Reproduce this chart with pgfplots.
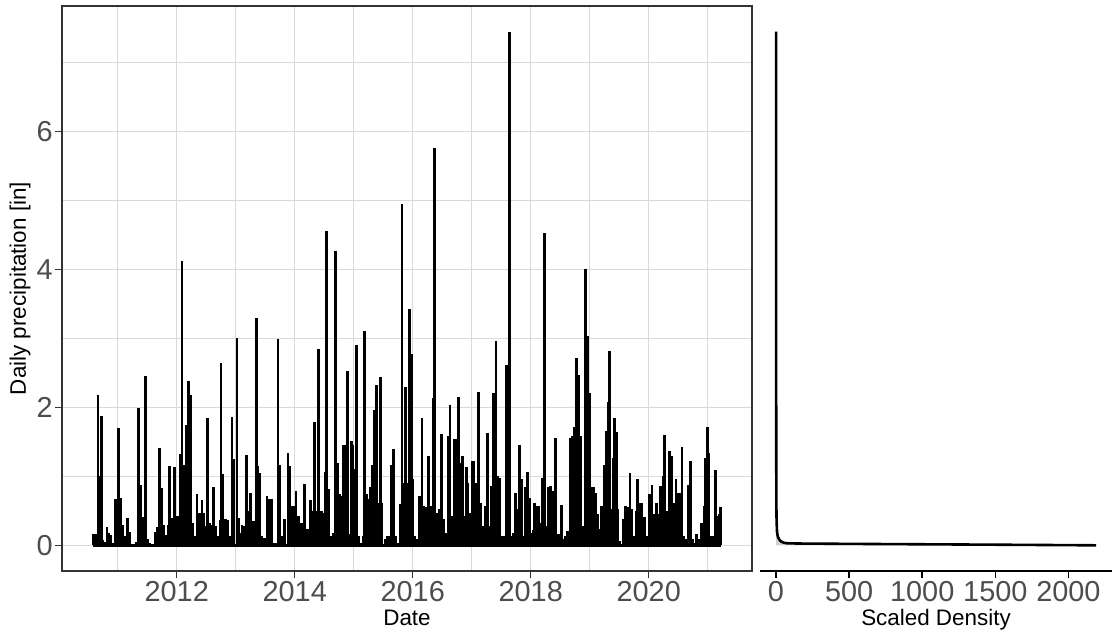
\documentclass[border=0pt]{standalone}
\usepackage{pgfplots}
\pgfplotsset{compat=1.18}
\usepackage{pgfplotstable}
\usepackage{fontspec}
\setmainfont{Liberation Sans}

\definecolor{tickgrey}{HTML}{4D4D4D}
\definecolor{framegrey}{HTML}{333333}
\definecolor{gridgrey}{HTML}{D9D9D9}

% daily precipitation peaks (decimal year, inches)
\pgfplotstableread{
year value
2010.581 0.16
2010.620 0.16
2010.666 2.18
2010.689 1.00
2010.722 1.87
2010.751 0.08
2010.785 0.05
2010.819 0.26
2010.853 0.18
2010.886 0.15
2010.920 0.04
2010.959 0.67
2010.988 0.50
2011.017 1.70
2011.051 0.69
2011.090 0.29
2011.129 0.14
2011.163 0.39
2011.197 0.19
2011.231 0.02
2011.276 0.01
2011.322 0.05
2011.356 1.99
2011.383 0.88
2011.417 0.41
2011.446 0.40
2011.468 2.45
2011.502 0.09
2011.542 0.04
2011.598 0.01
2011.637 0.20
2011.671 0.27
2011.705 1.41
2011.729 0.50
2011.751 0.83
2011.773 0.30
2011.797 0.09
2011.824 0.15
2011.853 0.29
2011.881 1.15
2011.920 0.40
2011.942 0.30
2011.966 1.14
2012.000 0.43
2012.027 0.43
2012.061 1.33
2012.090 4.12
2012.124 1.17
2012.146 0.40
2012.169 1.74
2012.203 2.39
2012.237 2.18
2012.271 0.33
2012.305 0.14
2012.344 0.75
2012.390 0.47
2012.429 0.66
2012.463 0.47
2012.485 0.28
2012.525 1.85
2012.553 0.33
2012.586 0.30
2012.620 0.85
2012.654 0.28
2012.700 0.14
2012.734 0.37
2012.751 2.64
2012.785 1.04
2012.824 0.38
2012.858 0.37
2012.898 0.14
2012.937 1.86
2012.971 1.25
2013.022 3.01
2013.044 0.40
2013.068 0.18
2013.107 0.30
2013.141 0.28
2013.186 1.31
2013.214 0.50
2013.247 0.76
2013.276 0.35
2013.310 0.35
2013.349 3.29
2013.378 1.15
2013.412 1.05
2013.446 0.14
2013.492 0.11
2013.531 0.71
2013.576 0.67
2013.615 0.67
2013.661 0.04
2013.688 0.04
2013.717 2.99
2013.746 1.17
2013.785 0.14
2013.831 0.38
2013.886 1.34
2013.920 1.15
2013.954 0.57
2013.983 0.57
2014.022 0.79
2014.068 0.43
2014.085 0.29
2014.112 0.33
2014.124 0.30
2014.169 0.89
2014.214 0.23
2014.271 0.66
2014.305 0.50
2014.339 1.79
2014.366 0.50
2014.407 2.85
2014.451 0.50
2014.485 0.47
2014.519 1.06
2014.542 4.56
2014.576 0.81
2014.620 0.14
2014.649 0.18
2014.688 4.27
2014.722 1.20
2014.763 0.75
2014.790 0.71
2014.831 1.46
2014.858 1.46
2014.892 2.53
2014.915 0.16
2014.959 1.51
2014.988 1.46
2015.017 1.10
2015.051 2.91
2015.085 0.14
2015.119 0.04
2015.158 0.14
2015.186 3.11
2015.214 0.74
2015.254 0.67
2015.288 0.85
2015.322 1.17
2015.344 1.96
2015.383 2.32
2015.412 0.62
2015.451 2.44
2015.480 0.62
2015.536 0.09
2015.569 0.14
2015.610 0.14
2015.644 1.17
2015.678 1.39
2015.705 0.14
2015.751 0.04
2015.785 0.60
2015.819 4.95
2015.853 0.91
2015.875 2.29
2015.908 0.91
2015.942 3.43
2015.976 2.78
2016.005 0.96
2016.034 0.14
2016.078 0.09
2016.119 0.71
2016.158 1.84
2016.192 0.57
2016.231 0.55
2016.271 1.29
2016.305 0.57
2016.344 2.14
2016.373 5.77
2016.417 0.47
2016.458 0.52
2016.485 1.62
2016.519 0.38
2016.569 0.18
2016.598 1.58
2016.632 2.03
2016.666 0.43
2016.712 1.54
2016.739 1.54
2016.780 2.15
2016.807 1.20
2016.841 1.29
2016.881 0.43
2016.915 1.13
2016.937 0.91
2016.971 0.47
2017.005 1.22
2017.039 1.22
2017.078 0.91
2017.119 2.23
2017.153 0.62
2017.192 0.28
2017.231 0.57
2017.264 1.63
2017.305 0.28
2017.332 0.86
2017.373 2.21
2017.412 2.96
2017.446 1.00
2017.480 0.98
2017.514 0.14
2017.559 0.14
2017.593 2.62
2017.637 7.45
2017.671 0.14
2017.700 0.18
2017.739 0.76
2017.773 0.52
2017.807 1.46
2017.841 0.96
2017.875 0.14
2017.908 0.84
2017.942 1.07
2017.976 0.69
2018.010 0.18
2018.044 0.22
2018.068 0.62
2018.102 0.57
2018.136 0.57
2018.169 0.33
2018.192 0.97
2018.237 4.53
2018.271 0.28
2018.298 0.85
2018.332 0.86
2018.366 0.79
2018.400 0.79
2018.422 1.56
2018.456 0.16
2018.497 0.16
2018.525 0.58
2018.554 0.09
2018.593 0.14
2018.627 0.21
2018.671 1.56
2018.705 1.58
2018.739 1.72
2018.780 2.72
2018.820 2.47
2018.854 1.58
2018.888 0.28
2018.932 4.01
2018.966 3.03
2019.007 2.21
2019.034 0.85
2019.068 0.85
2019.102 0.76
2019.136 0.45
2019.176 0.23
2019.203 0.57
2019.232 0.23
2019.254 1.16
2019.288 1.66
2019.310 2.08
2019.332 2.82
2019.366 0.52
2019.395 1.26
2019.424 1.85
2019.451 1.64
2019.480 0.52
2019.514 0.06
2019.564 0.38
2019.603 0.57
2019.637 0.55
2019.683 1.05
2019.717 0.52
2019.751 0.14
2019.785 0.50
2019.807 0.96
2019.846 0.62
2019.875 0.62
2019.903 0.30
2019.932 0.41
2019.976 0.14
2020.017 0.75
2020.056 0.88
2020.090 0.45
2020.129 0.62
2020.158 0.45
2020.203 0.86
2020.242 1.00
2020.271 1.60
2020.305 0.50
2020.349 1.37
2020.383 1.29
2020.417 0.62
2020.463 0.96
2020.497 0.76
2020.525 0.76
2020.564 1.43
2020.598 0.14
2020.637 0.09
2020.666 0.88
2020.712 1.22
2020.746 0.09
2020.780 0.04
2020.814 0.16
2020.847 0.09
2020.892 0.33
2020.937 0.57
2020.959 1.27
2020.993 1.71
2021.022 1.34
2021.051 0.14
2021.090 0.14
2021.129 1.09
2021.163 0.43
2021.197 0.45
2021.220 0.55
}\precip

% scaled density of daily precipitation
\pgfplotstableread{
density precip
0.3 7.45
0.6 5.00
1.0 3.00
1.5 1.50
2.5 0.60
4 0.35
7 0.20
11 0.14
16 0.11
25 0.075
39 0.050
55 0.037
73 0.030
150 0.026
500 0.021
1000 0.015
1500 0.009
2189 0.000
}\dens

\begin{document}
\begin{tikzpicture}
\pgfplotsset{
  panel/.style={
    scale only axis,
    anchor=south west,
    height=282.5bp,
    ymin=-0.3725, ymax=7.8225,
    tick align=outside,
    major tick length=3.5bp,
    minor tick length=0pt,
    /pgf/number format/assume math mode=true,
    /pgf/number format/1000 sep={},
    xticklabel style={font=\fontsize{14.5}{14.5}\selectfont, text=tickgrey,
      anchor=base, inner sep=0pt, yshift=-11.9bp},
    yticklabel style={font=\fontsize{14.5}{14.5}\selectfont, text=tickgrey,
      anchor=east, inner sep=0pt, xshift=-1bp},
    every axis x label/.style={at={(axis description cs:0.5,0)}, anchor=base,
      yshift=-27bp, font=\fontsize{11.25}{11.25}\selectfont, text=black},
  },
}
% time series
\begin{axis}[panel,
  at={(31bp,31bp)}, width=345bp,
  xmin=2010.056, xmax=2021.751,
  xtick={2012,2014,2016,2018,2020},
  minor xtick={2011,2013,2015,2017,2019,2021},
  ytick={0,2,4,6},
  minor ytick={1,3,5,7},
  grid=both,
  major grid style={gridgrey, line width=0.6bp},
  minor grid style={gridgrey, line width=0.45bp},
  axis line style={framegrey, line width=0.7bp},
  tick style={framegrey, line width=0.7bp},
  xtick pos=bottom, ytick pos=left,
  xlabel={Date},
  ylabel={Daily precipitation [in]},
  every axis y label/.style={at={(axis description cs:0,0.5)}, rotate=90,
    anchor=center, yshift=21bp, font=\fontsize{11.25}{11.25}\selectfont},
]
\addplot[ycomb, black, line width=1.3bp, no markers] table[x=year, y=value] {\precip};
\addplot[black, line width=1.3bp, no markers] coordinates {(2010.581,0) (2021.22,0)};
\end{axis}

% density panel
\begin{axis}[panel,
  at={(380bp,31bp)}, width=176bp,
  xmin=-109.4, xmax=2298,
  axis x line*=bottom,
  axis y line=none,
  xtick={0,500,1000,1500,2000},
  axis line style={black, line width=0.9bp},
  tick style={black, line width=0.8bp},
  xlabel={Scaled Density},
]
\addplot[fill=gray!35, draw=none, no markers] table[x=density, y=precip] {\dens} \closedcycle;
\addplot[black, line width=1.3bp, no markers] table[x=density, y=precip] {\dens};
\end{axis}

\pgfresetboundingbox
\path[use as bounding box] (0,0) rectangle (556bp,316.5bp);
\end{tikzpicture}
\end{document}
